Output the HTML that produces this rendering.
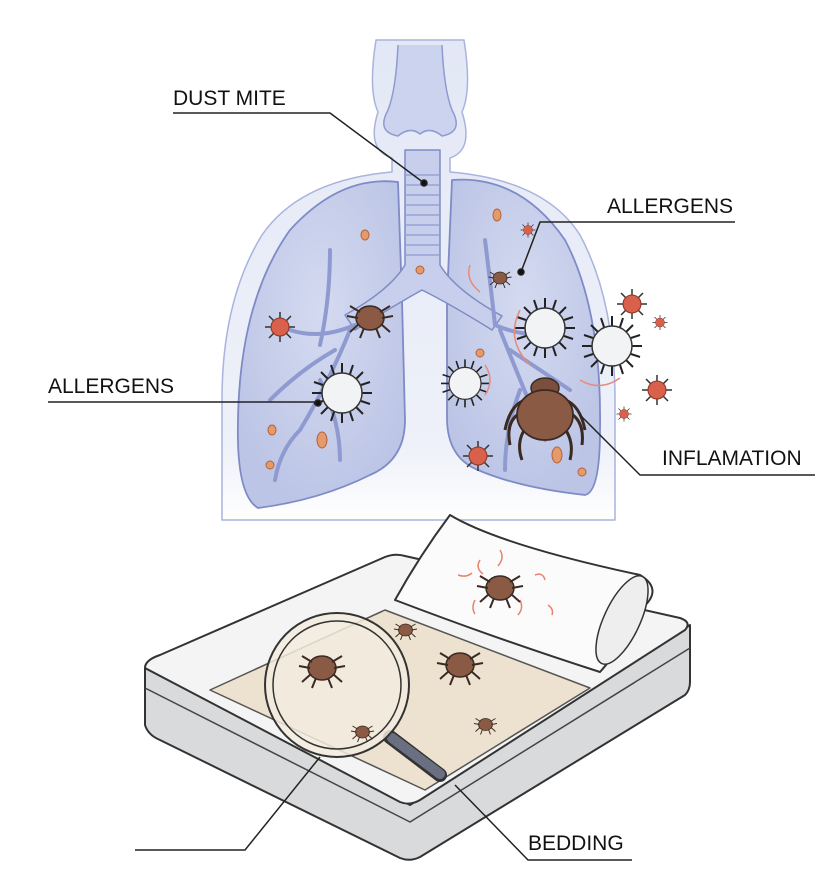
<!DOCTYPE html>
<html><head><meta charset="utf-8"><style>
html,body{margin:0;padding:0;background:#fff;}
svg{display:block;}
text{font-family:"Liberation Sans",sans-serif;font-size:21px;fill:#111;}
</style></head><body>
<svg width="834" height="892" viewBox="0 0 834 892" xmlns="http://www.w3.org/2000/svg" stroke-linejoin="round">
<defs>
<radialGradient id="lg" cx="50%" cy="40%" r="60%"><stop offset="0" stop-color="#d4daf0"/><stop offset="1" stop-color="#bcc5e6"/></radialGradient>
<linearGradient id="bg" x1="0" y1="0" x2="0" y2="1"><stop offset="0" stop-color="#e3e8f6"/><stop offset="0.85" stop-color="#eef1f9"/><stop offset="1" stop-color="#fff"/></linearGradient>
<g id="mite"><ellipse cx="0" cy="0" rx="14" ry="12" fill="#8a5a45" stroke="#3a2a22" stroke-width="1.5"/>
<g stroke="#3a2a22" stroke-width="2" fill="none"><path d="M-10,-6 L-20,-12 M-12,0 L-23,-2 M-11,6 L-20,14 M-6,10 L-10,20 M10,-6 L20,-12 M12,0 L23,-2 M11,6 L20,14 M6,10 L10,20"/></g></g>
<g id="cell"><g stroke="#222" stroke-width="2"><path d="M0,-30V-20M0,20V30M-30,0H-20M20,0H30M-21,-21L-14,-14M21,21L14,14M-21,21L-14,14M21,-21L14,-14M-11,-28L-8,-19M11,28L8,19M-28,11L-19,8M28,-11L19,-8M11,-28L8,-19M-11,28L-8,19M-28,-11L-19,-8M28,11L19,8"/></g>
<circle r="20" fill="#f2f3f5" stroke="#333" stroke-width="1.5"/></g>
<g id="virus"><g stroke="#333" stroke-width="1.5"><path d="M0,-15V15M-15,0H15M-11,-11L11,11M-11,11L11,-11"/></g><circle r="9" fill="#d9604a" stroke="#8a3325" stroke-width="1"/></g>
</defs>
<!-- body silhouette -->
<path d="M376,40 Q368,90 378,112 Q366,150 392,158 L392,172 Q300,180 262,235 Q222,300 222,400 L222,520 L615,520 L615,400 Q615,300 580,235 Q545,180 450,172 L450,158 Q474,150 462,112 Q472,90 464,40 Z" fill="url(#bg)" stroke="#a9b3dd" stroke-width="1.5"/>
<!-- nose -->
<path d="M398,45 Q396,90 388,110 Q376,132 398,136 Q410,126 420,134 Q430,126 442,136 Q464,132 452,110 Q444,90 442,45" fill="#ccd3ee" stroke="#8e9ad0" stroke-width="1.5"/>
<!-- lungs -->
<path d="M398,182 Q340,175 290,230 Q240,300 238,420 Q236,495 258,508 Q320,500 370,475 Q405,460 405,420 L402,300 Z" fill="url(#lg)" stroke="#7e8bc6" stroke-width="1.8"/>
<path d="M452,180 Q520,175 565,240 Q602,310 600,430 Q600,492 585,495 Q520,488 478,470 Q448,458 447,420 L447,300 Z" fill="url(#lg)" stroke="#7e8bc6" stroke-width="1.8"/>
<!-- trachea & bronchi -->
<path d="M405,150 L405,265 Q390,290 345,315 L355,330 Q395,305 422,290 Q452,305 492,330 L502,316 Q455,290 440,265 L440,150 Z" fill="#c7cfec" stroke="#7e8bc6" stroke-width="1.5"/>
<g stroke="#8e9ad0" stroke-width="1.2"><path d="M406,175H439M406,185H439M406,195H439M406,205H439M406,215H439M406,225H439M406,235H439M406,245H439M406,255H439"/></g>
<g stroke="#8e9ad0" stroke-width="4" fill="none" stroke-linecap="round">
<path d="M355,325 Q320,340 290,330 M350,330 Q330,380 300,430 M335,350 Q300,370 270,400 M320,345 Q330,300 330,250 M320,380 Q340,420 340,460 M300,430 Q280,450 275,480"/>
<path d="M495,325 Q530,340 555,330 M500,330 Q520,380 545,440 M510,350 Q540,370 570,390 M495,325 Q490,280 485,240 M520,390 Q505,430 505,470"/>
</g>
<!-- particles -->
<g fill="#e49a6a" stroke="#b5623a" stroke-width="1"><ellipse cx="365" cy="235" rx="4" ry="5"/><ellipse cx="497" cy="215" rx="4" ry="6"/><ellipse cx="420" cy="270" rx="4" ry="4"/><ellipse cx="322" cy="440" rx="5" ry="8"/><ellipse cx="272" cy="430" rx="4" ry="5"/><ellipse cx="270" cy="465" rx="4" ry="4"/><ellipse cx="557" cy="455" rx="5" ry="8"/><ellipse cx="480" cy="353" rx="4" ry="4"/><ellipse cx="538" cy="330" rx="4" ry="5"/><ellipse cx="582" cy="472" rx="4" ry="4"/></g>
<use href="#mite" x="370" y="318"/>
<use href="#mite" x="500" y="278" transform="translate(250 139) scale(0.5)"/>
<use href="#virus" x="280" y="327"/>
<use href="#virus" x="478" y="456"/>
<use href="#virus" x="632" y="304"/>
<use href="#virus" x="657" y="390"/>
<use href="#virus" x="528" y="230" transform="translate(264 115) scale(0.5)"/>
<use href="#virus" x="660" y="323" transform="translate(330 161) scale(0.5)"/>
<use href="#virus" x="624" y="414" transform="translate(312 207) scale(0.5)"/>
<use href="#cell" x="342" y="393"/>
<use href="#cell" x="545" y="328"/>
<use href="#cell" x="612" y="346"/>
<use href="#cell" x="465" y="383" transform="translate(93 77) scale(0.8)"/>
<g fill="none" stroke="#e88a7a" stroke-width="1.5"><path d="M520,310 Q505,340 530,365"/><path d="M580,380 Q600,392 620,378"/><path d="M485,365 Q495,380 485,395"/><path d="M470,265 Q465,280 480,292"/></g>
<!-- big mite -->
<ellipse cx="545" cy="388" rx="14" ry="10" fill="#7a4f3d" stroke="#3a2a22" stroke-width="1.5"/>
<g stroke="#3a2a22" stroke-width="3" fill="none"><path d="M525,400 Q510,405 505,430 M522,412 Q505,420 510,445 M528,425 Q515,440 522,460 M565,400 Q580,405 585,430 M568,412 Q585,420 582,445 M562,425 Q575,440 570,460"/></g>
<ellipse cx="545" cy="415" rx="28" ry="25" fill="#8a5a45" stroke="#3a2a22" stroke-width="1.8"/>
<!-- mattress -->
<path d="M145,668 L145,725 Q148,735 160,740 L400,858 Q410,862 420,857 L685,695 Q690,690 690,682 L690,625 L410,805 Z" fill="#d9dadc" stroke="#333" stroke-width="2"/>
<path d="M145,688 L410,822 L690,648" fill="none" stroke="#444" stroke-width="1.5"/>
<path d="M145,668 Q145,660 160,655 L385,557 Q395,553 405,556 L680,618 Q692,622 685,630 L420,800 Q410,806 400,802 Z" fill="#f4f4f5" stroke="#333" stroke-width="2"/>
<path d="M210,690 L385,610 L590,688 L425,790 Z" fill="#ede2d0" stroke="#555" stroke-width="1.5"/>
<!-- pillow -->
<path d="M450,515 Q500,545 640,575 Q665,590 640,610 Q620,650 600,672 Q500,640 395,600 Q420,555 450,515 Z" fill="#fbfbfb" stroke="#333" stroke-width="2"/>
<ellipse cx="622" cy="620" rx="18" ry="48" transform="rotate(25 622 620)" fill="#eee" stroke="#333" stroke-width="1.5"/>
<g fill="none" stroke="#e8826c" stroke-width="1.5"><path d="M480,560 q-5,8 3,14 M500,550 q5,8 -2,16 M535,575 q8,-3 10,5 M458,575 q8,3 14,-2 M520,600 q4,8 -2,15 M548,605 q6,4 4,10 M475,600 q-4,8 0,14"/></g>
<use href="#mite" x="500" y="588"/>
<use href="#mite" x="460" y="665"/>
<use href="#mite" x="405" y="630" transform="translate(203 315) scale(0.5)"/>
<use href="#mite" x="485" y="725" transform="translate(243 362) scale(0.5)"/>
<!-- magnifier -->
<path d="M390,737 L440,775" stroke="#333" stroke-width="14" stroke-linecap="round"/>
<path d="M392,738 L440,774" stroke="#6b6f82" stroke-width="10" stroke-linecap="round"/>
<circle cx="337" cy="685" r="72" fill="#f2ebde" fill-opacity="0.85" stroke="#333" stroke-width="2"/>
<circle cx="337" cy="685" r="64" fill="none" stroke="#333" stroke-width="1.5"/>
<use href="#mite" x="322" y="668"/>
<use href="#mite" x="363" y="732" transform="translate(181 366) scale(0.5)"/>
<!-- labels -->
<g stroke="#222" stroke-width="1.5" fill="none">
<path d="M173,113 H330 L424,183"/><circle cx="424" cy="183" r="3" fill="#111"/>
<path d="M735,222 H540 L521,272"/><circle cx="521" cy="272" r="3" fill="#111"/>
<path d="M48,402 H318"/><circle cx="318" cy="403" r="3" fill="#111"/>
<path d="M580,415 L640,475 H815"/>
<path d="M455,785 L528,860 H632"/>
<path d="M135,850 H245 L320,757"/>
</g>
<text x="173" y="105">DUST MITE</text>
<text x="607" y="213">ALLERGENS</text>
<text x="48" y="393">ALLERGENS</text>
<text x="662" y="465">INFLAMATION</text>
<text x="528" y="850">BEDDING</text>
</svg>
</body></html>
